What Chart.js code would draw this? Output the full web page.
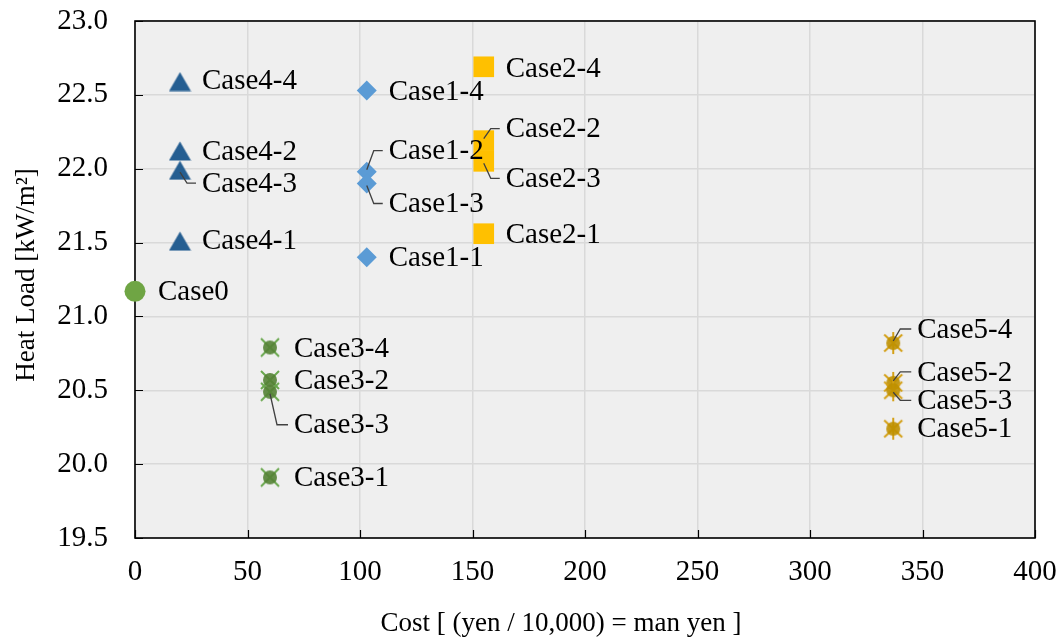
<!DOCTYPE html>
<html><head><meta charset="utf-8">
<script src="https://cdn.jsdelivr.net/npm/chart.js@4/dist/chart.umd.min.js"></script>
<style>html,body{margin:0;padding:0;background:#fff}#wrap{width:1062px;height:641px;position:relative}</style>
</head><body><div id="wrap"><canvas id="c"></canvas></div>
<script>
// ---- data ----
const case0Labels = ['Case0'];
const case0Cost = [0];
const case0Load = [21.17];

const case1Labels = ['Case1-1', 'Case1-2', 'Case1-3', 'Case1-4'];
const case1Cost = [103, 103, 103, 103];
const case1Load = [21.40, 21.98, 21.90, 22.53];

const case2Labels = ['Case2-1', 'Case2-2', 'Case2-3', 'Case2-4'];
const case2Cost = [155, 155, 155, 155];
const case2Load = [21.56, 22.19, 22.05, 22.69];

const case3Labels = ['Case3-1', 'Case3-2', 'Case3-3', 'Case3-4'];
const case3Cost = [60, 60, 60, 60];
const case3Load = [19.91, 20.57, 20.49, 20.79];

const case4Labels = ['Case4-1', 'Case4-2', 'Case4-3', 'Case4-4'];
const case4Cost = [20, 20, 20, 20];
const case4Load = [21.51, 22.12, 21.99, 22.59];

const case5Labels = ['Case5-1', 'Case5-2', 'Case5-3', 'Case5-4'];
const case5Cost = [337, 337, 337, 337];
const case5Load = [20.24, 20.55, 20.50, 20.82];

const xTickValues = [0, 50, 100, 150, 200, 250, 300, 350, 400];
const yTickValues = [19.5, 20.0, 20.5, 21.0, 21.5, 22.0, 22.5, 23.0];
const xTitle = 'Cost [ (yen / 10,000) = man yen ]';
const yTitle = 'Heat Load [kW/m\u00B2]';

// ---- label placement (pixel offsets from the point, style only) ----
const labelPlace = {
  'Case0':   {dx: 23, dy: 1},
  'Case4-4': {dx: 22, dy: 0}, 'Case4-2': {dx: 22, dy: 1}, 'Case4-3': {dx: 22, dy: 14, leader: true}, 'Case4-1': {dx: 22, dy: 0},
  'Case1-4': {dx: 22, dy: 2}, 'Case1-2': {dx: 22, dy: -20, leader: true}, 'Case1-3': {dx: 22, dy: 21, leader: true}, 'Case1-1': {dx: 22, dy: 1},
  'Case2-4': {dx: 22, dy: 3}, 'Case2-2': {dx: 22, dy: -11, leader: true}, 'Case2-3': {dx: 22, dy: 18, leader: true}, 'Case2-1': {dx: 22, dy: 2},
  'Case3-4': {dx: 24, dy: 2}, 'Case3-2': {dx: 24, dy: 1}, 'Case3-3': {dx: 24, dy: 34, leader: true}, 'Case3-1': {dx: 24, dy: 1},
  'Case5-4': {dx: 24, dy: -13, leader: true}, 'Case5-2': {dx: 24, dy: -10, leader: true}, 'Case5-3': {dx: 24, dy: 11, leader: true}, 'Case5-1': {dx: 24, dy: 1}
};

const FONT = '"Liberation Serif", "Times New Roman", serif';

// ---- marker images ----
function mk(w, h, fn) { const c = document.createElement('canvas'); c.width = w; c.height = h; fn(c.getContext('2d'), w, h); return c; }
const triImg = mk(23, 20, (g, w, h) => {
  g.fillStyle = '#255E91'; g.beginPath(); g.moveTo(w / 2, 0.5); g.lineTo(w - 0.5, h - 0.5); g.lineTo(0.5, h - 0.5); g.closePath(); g.fill();
});
const xImg = mk(22, 22, (g, w, h) => {
  const c = w / 2;
  g.strokeStyle = '#6AA84F'; g.lineWidth = 2; g.beginPath();
  g.moveTo(c - 9, c - 9); g.lineTo(c + 9, c + 9); g.moveTo(c + 9, c - 9); g.lineTo(c - 9, c + 9); g.stroke();
  g.fillStyle = 'rgba(84,130,53,0.9)'; g.beginPath(); g.arc(c, c, 7, 0, Math.PI * 2); g.fill();
});
const starImg = mk(22, 24, (g, w, h) => {
  const cx = w / 2, cy = h / 2;
  g.strokeStyle = '#D4A017'; g.lineWidth = 2; g.beginPath();
  g.moveTo(cx - 9, cy - 8.5); g.lineTo(cx + 9, cy + 8.5); g.moveTo(cx + 9, cy - 8.5); g.lineTo(cx - 9, cy + 8.5);
  g.moveTo(cx, cy - 11); g.lineTo(cx, cy + 11); g.stroke();
  g.fillStyle = 'rgba(191,144,0,0.9)'; g.beginPath(); g.arc(cx, cy, 7, 0, Math.PI * 2); g.fill();
});

function pts(xs, ys) { return xs.map((x, i) => ({x: x, y: ys[i]})); }

const datasets = [
  {label: 'Case0', names: case0Labels, data: pts(case0Cost, case0Load), pointStyle: 'circle', pointRadius: 10.5, backgroundColor: '#6FA544', borderWidth: 0},
  {label: 'Case4', names: case4Labels, data: pts(case4Cost, case4Load), pointStyle: triImg, pointRadius: 10, borderWidth: 0},
  {label: 'Case1', names: case1Labels, data: pts(case1Cost, case1Load), pointStyle: 'rectRot', pointRadius: 10, backgroundColor: '#5B9BD5', borderWidth: 0},
  {label: 'Case2', names: case2Labels, data: pts(case2Cost, case2Load), pointStyle: 'rect', pointRadius: 14.6, backgroundColor: '#FFC000', borderWidth: 0},
  {label: 'Case3', names: case3Labels, data: pts(case3Cost, case3Load), pointStyle: xImg, pointRadius: 10, borderWidth: 0},
  {label: 'Case5', names: case5Labels, data: pts(case5Cost, case5Load), pointStyle: starImg, pointRadius: 10, borderWidth: 0}
];

const decor = {
  id: 'decor',
  beforeDraw(chart) {
    const a = chart.chartArea, g = chart.ctx;
    g.save(); g.fillStyle = '#EFEFEF'; g.fillRect(a.left, a.top, a.right - a.left, a.bottom - a.top); g.restore();
  },
  beforeDatasetsDraw(chart) {
    const a = chart.chartArea, g = chart.ctx, xs = chart.scales.x, ys = chart.scales.y;
    g.save();
    g.strokeStyle = '#000'; g.lineWidth = 1.6;
    g.strokeRect(a.left, a.top, a.right - a.left, a.bottom - a.top);
    g.beginPath();
    yTickValues.forEach(v => { const y = Math.round(ys.getPixelForValue(v)) + 0.5; g.moveTo(a.left, y); g.lineTo(a.left + 8, y); });
    xTickValues.forEach(v => { const x = Math.round(xs.getPixelForValue(v)) + 0.5; g.moveTo(x, a.bottom); g.lineTo(x, a.bottom - 8); });
    g.lineWidth = 1.2; g.stroke();
    g.restore();
  },
  afterDatasetsDraw(chart) {
    const g = chart.ctx;
    g.save();
    g.font = '29px ' + FONT; g.fillStyle = '#000'; g.textBaseline = 'middle'; g.textAlign = 'left';
    chart.data.datasets.forEach((ds, di) => {
      const meta = chart.getDatasetMeta(di);
      meta.data.forEach((el, i) => {
        const name = ds.names[i], p = labelPlace[name] || {dx: 22, dy: 0};
        const tx = el.x + p.dx, ty = el.y + p.dy;
        if (p.leader) {
          g.save(); g.strokeStyle = '#404040'; g.lineWidth = 1.3; g.beginPath();
          const ly = ty - 1;
          g.moveTo(el.x, el.y + (p.dy > 0 ? 2 : -2));
          g.lineTo(el.x + 7, ly);
          g.lineTo(tx - 6, ly);
          g.stroke(); g.restore();
        }
        g.fillText(name, tx, ty);
      });
    });
    // axis titles
    g.font = '27px ' + FONT; g.textAlign = 'center'; g.textBaseline = 'middle';
    g.fillText(xTitle, 561, 624);
    g.translate(27, 275); g.rotate(-Math.PI / 2); g.fillText(yTitle, 0, 0);
    g.restore();
  }
};

function zeroPad(s) { s.paddingTop = 0; s.paddingBottom = 0; s.paddingLeft = 0; s.paddingRight = 0; }

new Chart(document.getElementById('c'), {
  type: 'scatter',
  data: {datasets: datasets},
  options: {
    responsive: true, maintainAspectRatio: false, animation: false,
    layout: {padding: {left: 0, right: 27, top: 21, bottom: 0}},
    plugins: {legend: {display: false}, tooltip: {enabled: false}},
    elements: {point: {hoverRadius: 0}},
    clip: false,
    scales: {
      x: {
        type: 'linear', min: 0, max: 400,
        afterBuildTicks: s => { s.ticks = xTickValues.map(v => ({value: v})); },
        afterFit: s => { s.height = 103; zeroPad(s); },
        ticks: {font: {family: FONT, size: 29}, color: '#000', padding: 17, maxRotation: 0, callback: v => String(v)},
        grid: {color: '#D9D9D9', lineWidth: 1.5, drawTicks: false},
        border: {display: false}
      },
      y: {
        type: 'linear', min: 19.5, max: 23.0,
        afterBuildTicks: s => { s.ticks = yTickValues.map(v => ({value: v})); },
        afterFit: s => { s.width = 135; zeroPad(s); },
        ticks: {font: {family: FONT, size: 29}, color: '#000', padding: 27, callback: v => Number(v).toFixed(1)},
        grid: {color: '#D9D9D9', lineWidth: 1.5, drawTicks: false},
        border: {display: false}
      }
    }
  },
  plugins: [decor]
});
</script></body></html>
